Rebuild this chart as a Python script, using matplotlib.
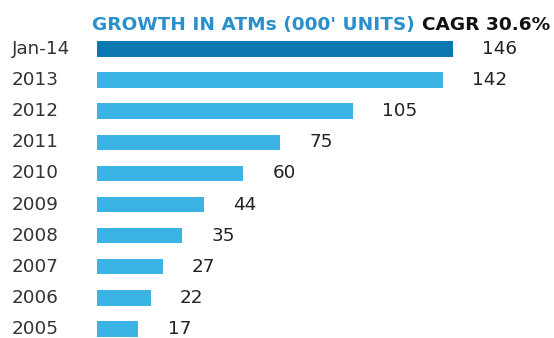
import matplotlib
matplotlib.use('Agg')
import matplotlib.pyplot as plt
import matplotlib.transforms as mtransforms

# data, top row first
years = ['Jan-14', '2013', '2012', '2011', '2010', '2009', '2008', '2007', '2006', '2005']
atms = [146, 142, 105, 75, 60, 44, 35, 27, 22, 17]
title_blue = "GROWTH IN ATMs (000' UNITS)"
title_black = 'CAGR 30.6%'

dark_blue = '#0b78b1'
light_blue = '#3bb3e4'
text_col = '#333333'

fig = plt.figure(figsize=(5.54, 3.38), dpi=100)
fig.patch.set_facecolor('white')
ax = fig.add_axes([97 / 554, 0, 1 - 97 / 554, 1])

colors = [dark_blue] + [light_blue] * (len(atms) - 1)
ypos = list(range(len(atms)))
ax.barh(ypos, atms, height=0.5, color=colors)

ax.set_xlim(0, 146 * 457 / 356)
ax.set_ylim(289 / 31.1, -49 / 31.1)
ax.axis('off')

for y, v in zip(ypos, atms):
    ax.annotate(str(v), (v, y), xytext=(21, 0), textcoords='offset points',
                va='center', ha='left', fontsize=13.2, color='#222222')

trans = mtransforms.blended_transform_factory(fig.transFigure, ax.transData)
for y, lab in zip(ypos, years):
    ax.text(12 / 554, y, lab, transform=trans, ha='left', va='center',
            fontsize=13.2, color=text_col)

fig.text(92 / 554, 1 - 25 / 338, title_blue, ha='left', va='center',
         fontsize=13.3, fontweight='bold', color='#2a8fcc')
fig.text(550 / 554, 1 - 25 / 338, title_black, ha='right', va='center',
         fontsize=13.3, fontweight='bold', color='#111111')

fig.savefig('out.png', dpi=100)
